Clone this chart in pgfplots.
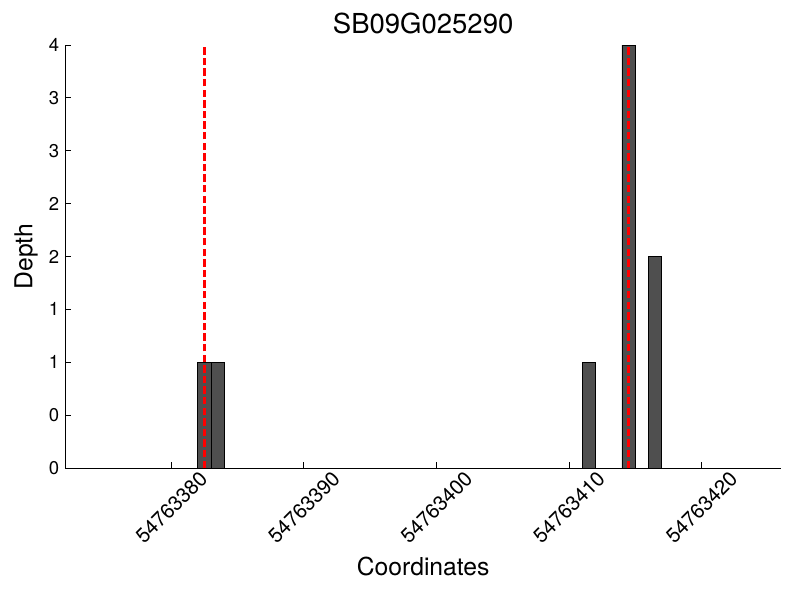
\documentclass[border=0pt]{standalone}
\usepackage{fontspec}
\setmainfont{TeX Gyre Heros}
\usepackage{pgfplots}
\pgfplotsset{compat=1.18}
\begin{document}
\begin{tikzpicture}
\begin{axis}[
  scale only axis,
  width=715.7pt, height=423pt,
  xmin=2, xmax=56, ymin=0, ymax=4,
  axis x line*=bottom, axis y line*=left,
  axis line style={-, black, line width=1pt},
  tick align=inside,
  major tick length=6pt,
  tick style={black, line width=0.8pt},
  xtick={10,20,30,40,50},
  xticklabels={54763380,54763390,54763400,54763410,54763420},
  ytick={0,0.5,1,1.5,2,2.5,3,3.5,4},
  yticklabels={0,0,1,1,2,2,3,3,4},
  yticklabel style={font=\fontsize{18.5}{22}\selectfont, inner sep=0pt, xshift=-6pt},
  xticklabel style={font=\fontsize{20.5}{24}\selectfont, rotate=45, anchor=center, inner sep=0pt},
  xticklabel shift=39.5pt,
  title={SB09G025290},
  title style={font=\fontsize{27.5}{32}\selectfont, at={(axis description cs:0.5,1.0135)}, anchor=base},
  xlabel={Coordinates},
  xlabel style={font=\fontsize{24.7}{29}\selectfont, at={(axis description cs:0.5,-0.253)}, anchor=base},
  ylabel={Depth},
  ylabel style={font=\fontsize{24.7}{29}\selectfont, at={(axis description cs:-0.0461,0.5)}, anchor=base, rotate=0},
  clip=false,
]
\addplot[ybar, bar width=1, fill=black!69, draw=black, line width=0.9pt] coordinates {
  (12.5,1) (13.5,1) (41.5,1) (44.5,4) (46.5,2)
};
\addplot[red, line width=2.5pt, dash pattern=on 7.4pt off 3.2pt] coordinates {(12.5,0) (12.5,4)};
\addplot[red, line width=2.5pt, dash pattern=on 7.4pt off 3.2pt] coordinates {(44.5,0) (44.5,4)};
\end{axis}
\pgfresetboundingbox
\path[use as bounding box] (-65.3pt,-132pt) rectangle (734.7pt,468pt);
\end{tikzpicture}
\end{document}
